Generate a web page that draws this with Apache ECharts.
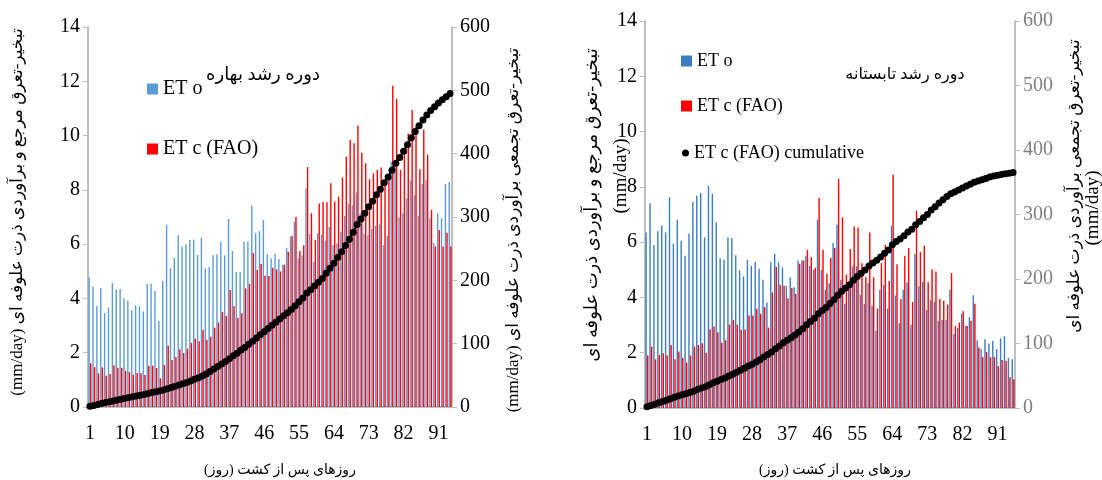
<!DOCTYPE html>
<html><head><meta charset="utf-8">
<script src="https://cdn.jsdelivr.net/npm/echarts@6/dist/echarts.min.js"></script>
<style>html,body{margin:0;padding:0;background:#fff}#c{width:1102px;height:480px}</style>
</head><body><div id="c"></div>
<script>
// ---- data ----
const daysSpring = [1,2,3,4,5,6,7,8,9,10,11,12,13,14,15,16,17,18,19,20,21,22,23,24,25,26,27,28,29,30,31,32,33,34,35,36,37,38,39,40,41,42,43,44,45,46,47,48,49,50,51,52,53,54,55,56,57,58,59,60,61,62,63,64,65,66,67,68,69,70,71,72,73,74,75,76,77,78,79,80,81,82,83,84,85,86,87,88,89,90,91,92,93,94];
const daysSummer = [1,2,3,4,5,6,7,8,9,10,11,12,13,14,15,16,17,18,19,20,21,22,23,24,25,26,27,28,29,30,31,32,33,34,35,36,37,38,39,40,41,42,43,44,45,46,47,48,49,50,51,52,53,54,55,56,57,58,59,60,61,62,63,64,65,66,67,68,69,70,71,72,73,74,75,76,77,78,79,80,81,82,83,84,85,86,87,88,89,90,91,92,93,94,95];

const springETo = [4.78,4.43,3.72,4.38,3.46,3.66,4.57,4.32,4.35,4.0,3.91,3.56,3.75,3.71,3.52,4.53,4.54,4.27,3.17,4.64,6.71,5.11,5.49,6.33,5.9,6.0,6.15,6.17,5.6,
 6.24,5.11,5.16,5.59,5.63,6.09,5.59,6.93,5.75,4.97,4.97,6.09,6.1,7.41,6.41,6.48,6.89,5.63,5.48,5.65,5.45,5.24,5.85,6.28,6.82,5.48,5.59,8.06,6.37,5.35,6.4,6.35,6.14,6.63,
 5.97,6.02,6.44,7.04,7.48,7.44,7.9,7.14,6.4,6.34,6.56,6.68,6.73,5.97,6.31,9.04,8.85,6.99,7.14,7.69,8.34,7.81,7.04,8.22,8.36,6.95,6.05,7.14,6.95,8.22,8.29];
const springETc = [1.61,1.47,1.24,1.46,1.15,1.22,1.54,1.45,1.45,1.33,1.29,1.19,1.25,1.24,1.18,1.52,1.52,1.44,1.06,1.55,2.26,1.73,1.84,2.13,1.99,2.15,2.36,2.51,2.42,
 2.84,2.47,2.58,2.92,3.11,3.5,3.35,4.31,3.71,3.28,3.45,4.37,4.53,5.67,5.05,5.27,4.84,4.83,5.13,5.07,4.99,5.24,5.72,6.3,7.0,5.75,5.96,8.84,7.14,6.15,7.5,7.55,7.54,8.24,
 7.57,7.75,8.45,9.22,9.84,9.72,10.37,9.37,8.98,8.39,8.61,8.73,8.82,8.2,8.43,11.84,11.35,8.73,9.55,10.08,10.94,10.35,8.76,10.21,9.29,7.26,5.91,6.52,5.91,6.42,5.91];
const springCum = [1,2.5,4,5.5,7,8.3,9.6,11,12.4,13.7,15,16.2,17.4,18.6,19.8,21.3,22.8,24.2,25.3,26.8,29,30.8,32.6,34.7,36.7,38.8,41.2,43.7,46,48.8,
 52,56,60,64,68,72,76,81,85,90,94,99,104,109,114,119,124,129,134,139,144,149,154,160,166,172,180,185,191,197,203,211,219,227,
 236,245,255,265,276,288,297,306,316,325,335,344,354,363,374,385,394,404,414,425,435,444,453,461,468,474,480,485,490,495];

const summerETo = [6.35,7.41,5.9,6.39,6.59,6.35,7.62,5.94,6.81,6.05,5.51,6.3,7.45,7.68,7.78,6.17,8.04,7.75,6.71,5.42,5.36,6.17,6.15,5.53,4.98,4.76,5.36,5.14,5.28,5.04,4.64,3.82,
 5.27,5.58,5.27,5.08,4.42,4.73,4.37,5.34,5.34,5.51,5.14,5.0,6.81,5.0,4.28,4.52,5.97,6.63,4.64,3.77,4.4,5.12,5.12,4.09,3.77,4.52,3.7,2.8,4.28,4.46,3.6,
 6.59,4.07,3.07,4.28,4.54,3.01,5.57,4.4,4.57,3.55,3.91,3.85,3.15,3.19,3.19,4.28,2.68,2.89,3.41,2.97,3.29,4.08,2.45,2.13,2.49,2.33,2.43,2.13,2.52,2.6,1.81,1.76];
const summerETc = [1.9,2.22,1.76,1.92,1.98,1.9,2.28,1.76,2.04,1.82,1.64,1.9,2.22,2.28,2.34,2.0,2.85,2.95,2.74,2.36,2.46,3.02,3.19,3.01,2.83,2.84,3.35,3.35,3.59,3.41,3.65,2.91,
 4.18,5.1,4.46,4.42,3.97,4.34,4.12,5.22,5.34,5.72,5.46,5.07,7.6,5.72,4.86,5.43,5.79,8.29,6.9,4.82,5.75,6.57,6.53,5.24,4.73,6.35,4.73,3.6,5.24,5.9,4.59,
 8.44,5.2,3.94,5.51,5.79,3.84,7.14,5.64,5.87,4.55,5.02,4.94,3.94,3.88,3.74,4.88,2.97,3.09,3.5,2.97,3.16,3.77,2.19,1.84,2.03,1.84,1.84,1.52,1.74,1.7,1.11,1.04];
const summerCum = [2,4,6,8,10,12,14.5,16.5,18.5,20.5,22,24,26,28.5,31,33,36,39,41.5,44,46.5,49.5,52.5,55.5,58.5,61.5,65,68,71.5,75,
 79,83,87,92,96,101,105,109,113,118,123,129,134,139,146,151,156,162,168,175,181,186,191,198,204,209,214,220,225,229,
 234,240,245,253,258,262,267,273,277,284,289,295,300,307,312,318,323,328,332,335,338,341,344,347,350,352,354,356,358,359.5,361,362,363,364,365];

const leftTicks = [0,2,4,6,8,10,12,14];
const rightTicks = [0,100,200,300,400,500,600];

const nameETo = 'ET o', nameETc = 'ET c (FAO)', nameCum = 'ET c (FAO) cumulative';
const titleSpring = 'دوره رشد بهاره';
const titleSummer = 'دوره رشد تابستانه';
const xName = 'روزهای پس از کشت (روز)';
const yNameL = 'تبخیر-تعرق مرجع و برآوردی ذرت علوفه ای';
const yNameR = 'تبخیر-تعرق تجمعی برآوردی ذرت علوفه ای';
const unit = '(mm/day)';

// ---- styles ----
const SERIF = '"Liberation Serif", "Times New Roman", serif';
const MIX = '"Liberation Serif", "DejaVu Sans", serif';
const gray = '#bfbfbf';
const blueL = '#5b9bd5', blueR = '#3a7cc2', red = '#ff0000';

function xAx(gi, days) {
  return {
    type: 'category', gridIndex: gi, data: days, boundaryGap: true,
    axisLine: {lineStyle: {color: gray, width: 2}},
    axisTick: {show: false},
    axisLabel: {interval: 8, color: '#000', fontFamily: SERIF, fontSize: 20, margin: 17}
  };
}
function yAx(gi, pos, max, interval, labColor) {
  return {
    type: 'value', gridIndex: gi, position: pos, min: 0, max: max, interval: interval,
    splitLine: {show: false},
    axisLine: {show: true, lineStyle: {color: gray, width: 2}},
    axisTick: {show: true, length: 5, lineStyle: {color: gray}},
    axisLabel: {color: labColor, fontFamily: SERIF, fontSize: 20, margin: 8}
  };
}
function bars(name, xi, yi, data, color) {
  return {name, type: 'bar', xAxisIndex: xi, yAxisIndex: yi, data, barWidth: 1.4, barGap: '15%',
    itemStyle: {color}, animation: false};
}
function cum(xi, yi, data) {
  return {name: nameCum, type: 'line', xAxisIndex: xi, yAxisIndex: yi, data, symbol: 'circle', symbolSize: 7,
    showAllSymbol: true, itemStyle: {color: '#000'}, lineStyle: {color: '#000', width: 2}, z: 5, animation: false};
}
function rtext(x, y, text, size, color, rot) {
  return {type: 'text', x, y, rotation: rot === undefined ? Math.PI / 2 : rot,
    style: {text, font: size + 'px ' + MIX, fill: color || '#000', align: 'center', verticalAlign: 'middle'}};
}

const chart = echarts.init(document.getElementById('c'));
chart.setOption({
  animation: false,
  grid: [
    {left: 88, top: 27, width: 364, height: 380},
    {left: 645, top: 21, width: 370, height: 387}
  ],
  xAxis: [xAx(0, daysSpring), xAx(1, daysSummer)],
  yAxis: [
    yAx(0, 'left', leftTicks[leftTicks.length - 1], 2, '#000'),
    yAx(0, 'right', rightTicks[rightTicks.length - 1], 100, '#000'),
    yAx(1, 'left', leftTicks[leftTicks.length - 1], 2, '#000'),
    yAx(1, 'right', rightTicks[rightTicks.length - 1], 100, '#808080')
  ],
  legend: [
    {orient: 'vertical', left: 142, top: 74, itemGap: 40, itemWidth: 11, itemHeight: 11, selectedMode: false,
      textStyle: {fontFamily: SERIF, fontSize: 20, color: '#000'},
      data: [{name: nameETo, icon: 'rect', itemStyle: {color: blueL}}, {name: nameETc, icon: 'rect', itemStyle: {color: red}}]},
    {orient: 'vertical', left: 676, top: 47, itemGap: 27, itemWidth: 11, itemHeight: 11, selectedMode: false,
      textStyle: {fontFamily: SERIF, fontSize: 18, color: '#000'},
      data: [{name: nameETo, icon: 'rect', itemStyle: {color: blueR}}, {name: nameETc, icon: 'rect', itemStyle: {color: red}}]},
    {orient: 'vertical', left: 677, top: 139, itemWidth: 7, itemHeight: 7, selectedMode: false,
      textStyle: {fontFamily: SERIF, fontSize: 18, color: '#000'},
      data: [{name: nameCum, icon: 'circle', itemStyle: {color: '#000'}}]}
  ],
  graphic: [
    rtext(263, 75, titleSpring, 18, '#000', 0),
    rtext(905, 75, titleSummer, 16, '#000', 0),
    rtext(280, 470, xName, 14, '#000', 0),
    rtext(835, 470, xName, 14, '#000', 0),
    rtext(18, 212, unit + ' ' + yNameL, 17),
    rtext(514, 230, unit + ' ' + yNameR, 17),
    rtext(592, 205, yNameL, 18),
    rtext(621, 176, unit, 19),
    rtext(1075, 186, yNameR, 17),
    rtext(1093, 208, unit, 19)
  ],
  series: [
    bars(nameETo, 0, 0, springETo, blueL),
    bars(nameETc, 0, 0, springETc, red),
    cum(0, 1, springCum),
    bars(nameETo, 1, 2, summerETo, blueR),
    bars(nameETc, 1, 2, summerETc, red),
    cum(1, 3, summerCum)
  ]
});
</script></body></html>
